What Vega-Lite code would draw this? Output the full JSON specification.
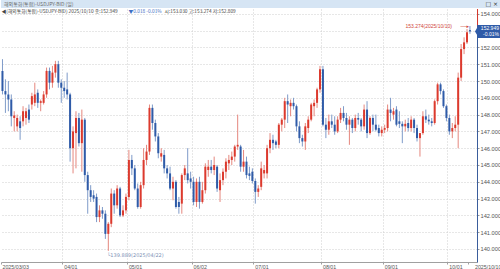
{
  "$schema": "https://vega.github.io/schema/vega-lite/v6.json",
  "padding": 0,
  "background": "white",
  "spacing": 0,
  "config": {
    "view": {"stroke": null},
    "font": "Liberation Sans",
    "concat": {"spacing": 0},
    "axisY": {"labelOverlap": false, "tickCount": 15, "labelFlush": false, "labelBound": false},
    "axisX": {"labelOverlap": false, "labelFlush": false, "labelBound": false}
  },
  "vconcat": [
    {
      "width": 500,
      "height": 8,
      "view": {"fill": "#d6e5f4", "stroke": null},
      "data": {"values": [{"label": "해외통화(통합)-USDJPY-BID (일)", "icons": "□ ×"}]},
      "layer": [
        {
          "mark": {"type": "text", "align": "left", "baseline": "middle", "fontSize": 5, "color": "#6b6b6b", "font": "Noto Sans CJK KR", "dx": 3},
          "encoding": {
            "x": {"datum": 0, "type": "quantitative", "scale": {"domain": [0, 1]}, "axis": null},
            "y": {"datum": 0.5, "type": "quantitative", "scale": {"domain": [0, 1]}, "axis": null},
            "text": {"field": "label"}
          }
        },
        {
          "mark": {"type": "text", "align": "right", "baseline": "middle", "fontSize": 6, "color": "#333", "font": "DejaVu Sans", "dx": -3},
          "encoding": {
            "x": {"datum": 1, "type": "quantitative", "scale": {"domain": [0, 1]}, "axis": null},
            "y": {"datum": 0.5, "type": "quantitative", "scale": {"domain": [0, 1]}, "axis": null},
            "text": {"field": "icons"}
          }
        }
      ]
    },
    {
      "width": 476,
      "height": 253,
      "data": {"values": [
        {"date":"2025/03/03","open":150.6,"high":151.3,"low":149.2,"close":149.4},
        {"date":"2025/03/04","open":149.4,"high":150.1,"low":148.1,"close":149.2},
        {"date":"2025/03/05","open":149.2,"high":150.0,"low":148.2,"close":148.9},
        {"date":"2025/03/06","open":148.9,"high":149.2,"low":147.3,"close":147.9},
        {"date":"2025/03/07","open":147.8,"high":148.2,"low":147.0,"close":147.95},
        {"date":"2025/03/10","open":147.3,"high":148.0,"low":147.0,"close":147.8},
        {"date":"2025/03/11","open":147.6,"high":147.9,"low":146.5,"close":147.2},
        {"date":"2025/03/12","open":147.6,"high":148.5,"low":147.3,"close":148.2},
        {"date":"2025/03/13","open":147.8,"high":148.4,"low":147.4,"close":148.2},
        {"date":"2025/03/14","open":148.3,"high":148.6,"low":147.5,"close":147.7},
        {"date":"2025/03/17","open":148.6,"high":149.3,"low":148.3,"close":149.1},
        {"date":"2025/03/18","open":148.7,"high":149.9,"low":148.5,"close":149.2},
        {"date":"2025/03/19","open":149.3,"high":149.5,"low":148.4,"close":148.7},
        {"date":"2025/03/20","open":148.7,"high":148.9,"low":148.2,"close":148.8},
        {"date":"2025/03/21","open":148.7,"high":149.4,"low":148.6,"close":149.2},
        {"date":"2025/03/24","open":149.2,"high":150.8,"low":149.0,"close":150.6},
        {"date":"2025/03/25","open":150.6,"high":150.8,"low":149.5,"close":149.9},
        {"date":"2025/03/26","open":149.9,"high":150.9,"low":149.6,"close":150.5},
        {"date":"2025/03/27","open":150.5,"high":151.2,"low":150.2,"close":151.0},
        {"date":"2025/03/28","open":151.0,"high":151.2,"low":149.6,"close":149.9},
        {"date":"2025/03/31","open":149.9,"high":150.1,"low":148.7,"close":149.6},
        {"date":"2025/04/01","open":149.6,"high":150.0,"low":149.0,"close":149.4},
        {"date":"2025/04/02","open":149.5,"high":150.5,"low":148.9,"close":149.2},
        {"date":"2025/04/03","open":149.2,"high":149.3,"low":145.2,"close":146.0},
        {"date":"2025/04/04","open":146.0,"high":147.3,"low":144.5,"close":147.0},
        {"date":"2025/04/07","open":146.9,"high":148.2,"low":144.8,"close":147.8},
        {"date":"2025/04/08","open":147.8,"high":148.1,"low":146.1,"close":146.3},
        {"date":"2025/04/09","open":146.3,"high":148.3,"low":144.6,"close":147.7},
        {"date":"2025/04/10","open":147.7,"high":147.8,"low":144.0,"close":144.4},
        {"date":"2025/04/11","open":144.4,"high":144.6,"low":142.1,"close":143.5},
        {"date":"2025/04/14","open":143.5,"high":143.8,"low":142.8,"close":143.1},
        {"date":"2025/04/15","open":143.2,"high":143.5,"low":142.8,"close":143.0},
        {"date":"2025/04/16","open":143.1,"high":143.3,"low":141.6,"close":141.9},
        {"date":"2025/04/17","open":141.9,"high":142.6,"low":141.6,"close":142.3},
        {"date":"2025/04/18","open":142.3,"high":142.5,"low":141.8,"close":142.1},
        {"date":"2025/04/21","open":142.1,"high":142.3,"low":140.6,"close":140.9},
        {"date":"2025/04/22","open":140.9,"high":141.6,"low":139.889,"close":141.5},
        {"date":"2025/04/23","open":141.5,"high":143.6,"low":141.3,"close":143.3},
        {"date":"2025/04/24","open":143.3,"high":143.5,"low":142.1,"close":142.6},
        {"date":"2025/04/25","open":142.6,"high":143.8,"low":142.4,"close":143.6},
        {"date":"2025/04/28","open":143.6,"high":143.7,"low":141.9,"close":142.0},
        {"date":"2025/04/29","open":142.0,"high":142.6,"low":141.9,"close":142.3},
        {"date":"2025/04/30","open":142.3,"high":143.3,"low":142.1,"close":143.1},
        {"date":"2025/05/01","open":143.1,"high":145.9,"low":142.9,"close":145.3},
        {"date":"2025/05/02","open":145.3,"high":145.6,"low":144.4,"close":144.8},
        {"date":"2025/05/05","open":144.8,"high":145.0,"low":143.5,"close":143.6},
        {"date":"2025/05/06","open":143.6,"high":143.9,"low":142.4,"close":142.5},
        {"date":"2025/05/07","open":142.5,"high":144.0,"low":142.4,"close":143.8},
        {"date":"2025/05/08","open":143.8,"high":146.0,"low":143.6,"close":145.3},
        {"date":"2025/05/09","open":145.3,"high":146.2,"low":145.0,"close":145.8},
        {"date":"2025/05/12","open":145.8,"high":148.6,"low":145.6,"close":148.4},
        {"date":"2025/05/13","open":148.4,"high":148.6,"low":147.1,"close":147.5},
        {"date":"2025/05/14","open":147.5,"high":147.7,"low":146.4,"close":146.7},
        {"date":"2025/05/15","open":146.7,"high":146.9,"low":145.4,"close":145.7},
        {"date":"2025/05/16","open":145.5,"high":146.0,"low":145.2,"close":145.7},
        {"date":"2025/05/19","open":145.6,"high":145.9,"low":144.5,"close":144.8},
        {"date":"2025/05/20","open":144.8,"high":145.0,"low":144.2,"close":144.5},
        {"date":"2025/05/21","open":144.5,"high":144.9,"low":143.5,"close":143.6},
        {"date":"2025/05/22","open":143.6,"high":144.3,"low":142.9,"close":144.0},
        {"date":"2025/05/23","open":144.0,"high":144.1,"low":142.4,"close":142.5},
        {"date":"2025/05/26","open":142.8,"high":143.1,"low":142.1,"close":142.5},
        {"date":"2025/05/27","open":142.7,"high":144.5,"low":142.1,"close":144.4},
        {"date":"2025/05/28","open":144.4,"high":145.0,"low":144.1,"close":144.8},
        {"date":"2025/05/29","open":144.5,"high":146.0,"low":143.9,"close":144.1},
        {"date":"2025/05/30","open":144.2,"high":144.6,"low":143.6,"close":144.0},
        {"date":"2025/06/02","open":144.0,"high":144.3,"low":142.6,"close":142.8},
        {"date":"2025/06/03","open":142.8,"high":144.2,"low":142.5,"close":144.0},
        {"date":"2025/06/04","open":144.0,"high":144.3,"low":142.4,"close":142.8},
        {"date":"2025/06/05","open":142.8,"high":144.0,"low":142.7,"close":143.5},
        {"date":"2025/06/06","open":143.5,"high":145.1,"low":143.3,"close":144.9},
        {"date":"2025/06/09","open":144.7,"high":145.3,"low":144.3,"close":144.9},
        {"date":"2025/06/10","open":144.9,"high":145.3,"low":144.5,"close":144.7},
        {"date":"2025/06/11","open":144.7,"high":145.5,"low":144.4,"close":145.0},
        {"date":"2025/06/12","open":144.9,"high":145.0,"low":143.4,"close":143.6},
        {"date":"2025/06/13","open":143.5,"high":144.5,"low":142.8,"close":144.1},
        {"date":"2025/06/16","open":144.1,"high":144.8,"low":143.8,"close":144.6},
        {"date":"2025/06/17","open":144.6,"high":145.4,"low":144.2,"close":145.2},
        {"date":"2025/06/18","open":145.1,"high":145.6,"low":144.7,"close":145.3},
        {"date":"2025/06/19","open":145.3,"high":145.8,"low":145.0,"close":145.5},
        {"date":"2025/06/20","open":145.5,"high":146.2,"low":145.2,"close":146.1},
        {"date":"2025/06/23","open":146.1,"high":148.0,"low":145.9,"close":146.2},
        {"date":"2025/06/24","open":146.1,"high":146.2,"low":144.6,"close":144.9},
        {"date":"2025/06/25","open":144.9,"high":145.9,"low":144.6,"close":145.2},
        {"date":"2025/06/26","open":145.2,"high":145.5,"low":144.2,"close":144.4},
        {"date":"2025/06/27","open":144.5,"high":144.9,"low":144.1,"close":144.35},
        {"date":"2025/06/30","open":144.6,"high":144.8,"low":143.9,"close":144.05},
        {"date":"2025/07/01","open":144.05,"high":144.2,"low":142.7,"close":143.4},
        {"date":"2025/07/02","open":143.4,"high":143.8,"low":143.1,"close":143.6},
        {"date":"2025/07/03","open":143.7,"high":145.2,"low":143.5,"close":144.8},
        {"date":"2025/07/04","open":144.5,"high":145.0,"low":144.2,"close":144.7},
        {"date":"2025/07/07","open":144.5,"high":146.2,"low":144.2,"close":146.0},
        {"date":"2025/07/08","open":146.0,"high":146.9,"low":145.7,"close":146.5},
        {"date":"2025/07/09","open":146.5,"high":146.8,"low":145.9,"close":146.3},
        {"date":"2025/07/10","open":146.4,"high":146.5,"low":146.0,"close":146.2},
        {"date":"2025/07/11","open":146.2,"high":147.5,"low":146.0,"close":147.4},
        {"date":"2025/07/14","open":147.4,"high":147.8,"low":147.0,"close":147.7},
        {"date":"2025/07/15","open":147.7,"high":149.0,"low":147.2,"close":148.8},
        {"date":"2025/07/16","open":148.8,"high":149.2,"low":147.5,"close":148.6},
        {"date":"2025/07/17","open":148.5,"high":148.9,"low":147.9,"close":148.7},
        {"date":"2025/07/18","open":148.7,"high":149.0,"low":148.3,"close":148.5},
        {"date":"2025/07/21","open":148.5,"high":148.6,"low":147.0,"close":147.3},
        {"date":"2025/07/22","open":147.3,"high":147.6,"low":146.3,"close":146.6},
        {"date":"2025/07/23","open":146.6,"high":146.8,"low":146.1,"close":146.4},
        {"date":"2025/07/24","open":146.4,"high":147.5,"low":145.9,"close":147.3},
        {"date":"2025/07/25","open":147.2,"high":147.9,"low":146.9,"close":147.7},
        {"date":"2025/07/28","open":147.7,"high":148.7,"low":147.6,"close":148.6},
        {"date":"2025/07/29","open":148.5,"high":148.9,"low":147.9,"close":148.7},
        {"date":"2025/07/30","open":148.7,"high":149.6,"low":148.4,"close":149.5},
        {"date":"2025/07/31","open":149.5,"high":150.9,"low":149.3,"close":150.7},
        {"date":"2025/08/01","open":150.7,"high":150.9,"low":147.3,"close":147.4},
        {"date":"2025/08/04","open":147.4,"high":147.8,"low":146.6,"close":147.1},
        {"date":"2025/08/05","open":147.1,"high":148.0,"low":146.8,"close":147.6},
        {"date":"2025/08/06","open":147.6,"high":148.0,"low":147.2,"close":147.4},
        {"date":"2025/08/07","open":147.4,"high":147.9,"low":146.8,"close":147.0},
        {"date":"2025/08/08","open":147.0,"high":147.9,"low":146.9,"close":147.7},
        {"date":"2025/08/11","open":147.7,"high":148.4,"low":147.5,"close":148.1},
        {"date":"2025/08/12","open":148.1,"high":148.5,"low":147.6,"close":147.8},
        {"date":"2025/08/13","open":147.8,"high":148.1,"low":147.1,"close":147.4},
        {"date":"2025/08/14","open":147.4,"high":147.9,"low":146.2,"close":147.7},
        {"date":"2025/08/15","open":147.7,"high":147.8,"low":146.9,"close":147.2},
        {"date":"2025/08/18","open":147.2,"high":148.0,"low":147.0,"close":147.8},
        {"date":"2025/08/19","open":147.8,"high":148.1,"low":147.4,"close":147.7},
        {"date":"2025/08/20","open":147.7,"high":147.8,"low":147.0,"close":147.3},
        {"date":"2025/08/21","open":147.3,"high":148.6,"low":147.1,"close":148.3},
        {"date":"2025/08/22","open":148.3,"high":148.8,"low":146.6,"close":146.9},
        {"date":"2025/08/25","open":146.9,"high":147.9,"low":146.8,"close":147.8},
        {"date":"2025/08/26","open":147.8,"high":148.0,"low":147.0,"close":147.4},
        {"date":"2025/08/27","open":147.4,"high":148.0,"low":147.0,"close":147.1},
        {"date":"2025/08/28","open":147.2,"high":147.4,"low":146.7,"close":146.9},
        {"date":"2025/08/29","open":146.9,"high":147.3,"low":146.7,"close":147.1},
        {"date":"2025/09/01","open":147.1,"high":147.4,"low":146.9,"close":147.2},
        {"date":"2025/09/02","open":147.2,"high":148.6,"low":147.0,"close":148.3},
        {"date":"2025/09/03","open":148.3,"high":149.0,"low":147.6,"close":148.1},
        {"date":"2025/09/04","open":148.0,"high":148.4,"low":147.7,"close":148.2},
        {"date":"2025/09/05","open":148.3,"high":148.5,"low":147.3,"close":147.4},
        {"date":"2025/09/08","open":147.6,"high":148.2,"low":147.2,"close":147.45},
        {"date":"2025/09/09","open":147.45,"high":147.6,"low":146.3,"close":147.3},
        {"date":"2025/09/10","open":147.3,"high":147.7,"low":147.0,"close":147.45},
        {"date":"2025/09/11","open":147.5,"high":147.8,"low":147.0,"close":147.2},
        {"date":"2025/09/12","open":147.2,"high":147.9,"low":147.0,"close":147.7},
        {"date":"2025/09/15","open":147.7,"high":147.8,"low":146.9,"close":147.2},
        {"date":"2025/09/16","open":147.2,"high":147.4,"low":146.4,"close":146.6},
        {"date":"2025/09/17","open":146.6,"high":146.9,"low":145.5,"close":146.9},
        {"date":"2025/09/18","open":146.9,"high":148.2,"low":146.8,"close":147.9},
        {"date":"2025/09/19","open":147.9,"high":148.3,"low":147.5,"close":147.7},
        {"date":"2025/09/22","open":147.7,"high":148.0,"low":147.4,"close":147.6},
        {"date":"2025/09/23","open":147.6,"high":147.8,"low":147.3,"close":147.5},
        {"date":"2025/09/24","open":147.5,"high":148.9,"low":147.4,"close":148.8},
        {"date":"2025/09/25","open":148.8,"high":149.9,"low":148.6,"close":149.8},
        {"date":"2025/09/26","open":149.8,"high":149.9,"low":149.2,"close":149.4},
        {"date":"2025/09/29","open":149.4,"high":149.5,"low":148.4,"close":148.5},
        {"date":"2025/09/30","open":148.5,"high":148.6,"low":147.6,"close":147.8},
        {"date":"2025/10/01","open":147.8,"high":148.0,"low":146.8,"close":147.0},
        {"date":"2025/10/02","open":147.0,"high":147.5,"low":146.6,"close":147.2},
        {"date":"2025/10/03","open":147.2,"high":147.9,"low":147.0,"close":147.4},
        {"date":"2025/10/06","open":147.4,"high":150.5,"low":146.0,"close":150.2},
        {"date":"2025/10/07","open":150.2,"high":152.2,"low":150.0,"close":151.9},
        {"date":"2025/10/08","open":151.9,"high":152.6,"low":151.6,"close":152.3},
        {"date":"2025/10/09","open":152.3,"high":153.1,"low":152.2,"close":152.9},
        {"date":"2025/10/10","open":153.03,"high":153.274,"low":152.809,"close":152.949}
      ]},
      "encoding": {
        "x": {
          "field": "date", "type": "ordinal", "sort": "ascending", "title": null,
          "scale": {"paddingInner": 0, "paddingOuter": 0.95, "align": 0},
          "axis": {
            "values": ["2025/03/03","2025/04/01","2025/05/01","2025/06/02","2025/07/01","2025/08/01","2025/09/01","2025/10/01","2025/10/10"],
            "labelExpr": "datum.value == '2025/03/03' || datum.value == '2025/10/10' ? datum.value : substring(datum.value, 5)",
            "bandPosition": 0,
            "grid": true,
            "gridDash": [1, 2],
            "gridColor": {"condition": {"test": "datum.value == '2025/03/03' || datum.value == '2025/10/10'", "value": "transparent"}, "value": "#cfcfcf"},
            "domainColor": "#a0a0a0",
            "tickColor": "#a0a0a0",
            "tickSize": 2,
            "labelAlign": "left",
            "labelAngle": 0,
            "labelFontSize": 5.3,
            "labelColor": "#555555",
            "labelPadding": 0,
            "labelOverlap": false,
            "labelFlush": false,
            "labelBound": false,
            "labelOffset": {"condition": {"test": "datum.value == '2025/10/10'", "value": 5}, "value": 0}
          }
        },
        "y": {
          "field": "low", "type": "quantitative", "title": null,
          "scale": {"domain": [139.226, 154.286], "nice": false, "zero": false},
          "axis": {
            "orient": "right",
            "values": [140,141,142,143,144,145,146,147,148,149,150,151,152,153,154],
            "tickCount": 15,
            "format": ".3f",
            "labelExpr": "datum.value == 153 ? '' : datum.label",
            "grid": true,
            "gridDash": [1, 2],
            "gridColor": "#cfcfcf",
            "domainColor": "#3a5d9c",
            "tickColor": "#999999",
            "tickSize": 2,
            "labelFontSize": 5.7,
            "labelColor": "#555555",
            "labelPadding": 1,
            "labelOverlap": false,
            "labelFlush": false,
            "labelBound": false
          }
        }
      },
      "layer": [
        {
          "mark": {"type": "rule", "strokeWidth": 1},
          "encoding": {
            "y2": {"field": "high"},
            "color": {"condition": {"test": "datum.close >= datum.open", "value": "#e5877e"}, "value": "#7f9bc9"}
          }
        },
        {
          "mark": {"type": "bar", "width": 2},
          "encoding": {
            "y": {"field": "open", "type": "quantitative", "title": null},
            "y2": {"field": "close"},
            "color": {"condition": {"test": "datum.close >= datum.open", "value": "#dc3a2e"}, "value": "#2f5ba8"}
          }
        },
        {
          "data": {"values": [{"date": "2025/04/22", "price": 139.889, "t": "└139.889(2025/04/22)"}]},
          "mark": {"type": "text", "align": "left", "baseline": "middle", "fontSize": 5, "color": "#7d92b6", "font": "DejaVu Sans", "dx": -1, "dy": 4},
          "encoding": {
            "y": {"field": "price", "type": "quantitative", "title": null},
            "text": {"field": "t"}
          }
        },
        {
          "data": {"values": [{"date": "2025/10/10", "price": 153.274, "t": "153.274(2025/10/10)", "a": "──▸"}]},
          "layer": [
            {
              "mark": {"type": "text", "align": "right", "baseline": "middle", "fontSize": 5, "color": "#d0463b", "font": "Liberation Sans", "dx": -18},
              "encoding": {
                "y": {"field": "price", "type": "quantitative", "title": null},
                "text": {"field": "t"}
              }
            },
            {
              "mark": {"type": "text", "align": "right", "baseline": "middle", "fontSize": 5, "color": "#d0463b", "font": "DejaVu Sans", "dx": -1},
              "encoding": {
                "y": {"field": "price", "type": "quantitative", "title": null},
                "text": {"field": "a"}
              }
            }
          ]
        },
        {
          "data": {"values": [{"date": "2025/10/10", "price": 152.949, "top": 154.286}]},
          "mark": {"type": "rule", "color": "#d9382b", "strokeWidth": 1, "xOffset": 7.6},
          "encoding": {
            "y": {"field": "price", "type": "quantitative", "title": null},
            "y2": {"field": "top"}
          }
        },
        {
          "data": {"values": [{"date": "2025/10/10", "price": 152.949, "p": "152.949", "pct": "-0.01%"}]},
          "layer": [
            {
              "mark": {"type": "point", "filled": true, "opacity": 1, "color": "#2f5ba8", "size": 576, "shape": "M0.42,0L0.6,-0.3L0.6,-0.54L2.6,-0.54L2.6,0.54L0.6,0.54L0.6,0.3Z"},
              "encoding": {
                "y": {"field": "price", "type": "quantitative", "title": null}
              }
            },
            {
              "mark": {"type": "text", "align": "right", "baseline": "middle", "fontSize": 5, "color": "white", "dx": 29, "dy": -3},
              "encoding": {
                "y": {"field": "price", "type": "quantitative", "title": null},
                "text": {"field": "p"}
              }
            },
            {
              "mark": {"type": "text", "align": "right", "baseline": "middle", "fontSize": 5, "color": "white", "dx": 29, "dy": 3},
              "encoding": {
                "y": {"field": "price", "type": "quantitative", "title": null},
                "text": {"field": "pct"}
              }
            }
          ]
        },
        {
          "data": {"values": [{"date": "2025/03/03", "top": 154.286, "t1": "◀(해외통화(통합)-USDJPY-BID) 2025/10/10 종:152.949", "t2": "▼0.018  -0.01%", "t3": "시:153.030 고:153.274 저:152.809"}]},
          "layer": [
            {
              "mark": {"type": "text", "align": "left", "baseline": "middle", "fontSize": 4.8, "color": "#444444", "font": "Noto Sans CJK KR", "dx": -1, "dy": 3},
              "encoding": {
                "y": {"field": "top", "type": "quantitative", "title": null},
                "text": {"field": "t1"}
              }
            },
            {
              "mark": {"type": "text", "align": "left", "baseline": "middle", "fontSize": 4.8, "color": "#3f6fc4", "font": "Noto Sans CJK KR", "dx": 126, "dy": 3},
              "encoding": {
                "y": {"field": "top", "type": "quantitative", "title": null},
                "text": {"field": "t2"}
              }
            },
            {
              "mark": {"type": "text", "align": "left", "baseline": "middle", "fontSize": 4.8, "color": "#444444", "font": "Noto Sans CJK KR", "dx": 162, "dy": 3},
              "encoding": {
                "y": {"field": "top", "type": "quantitative", "title": null},
                "text": {"field": "t3"}
              }
            }
          ]
        }
      ]
    }
  ]
}
